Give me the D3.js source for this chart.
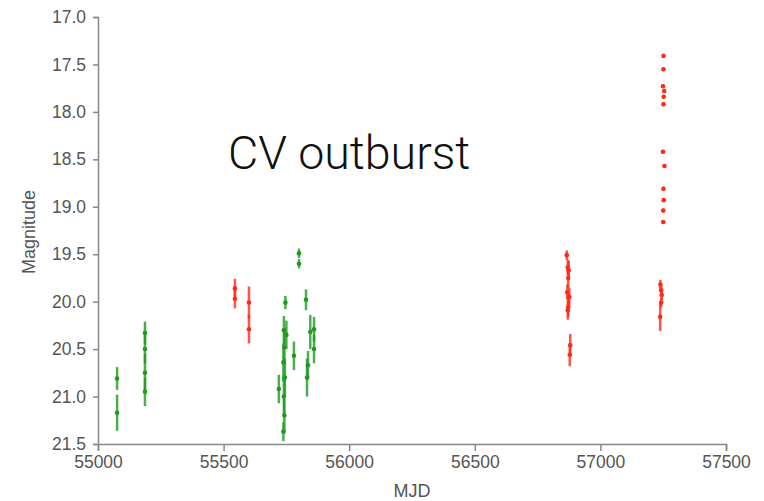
<!DOCTYPE html>
<html><head><meta charset="utf-8">
<script src="https://cdn.jsdelivr.net/npm/d3@7"></script>
<style>body{margin:0;background:#fff}svg{display:block}</style>
</head><body><svg id="c" width="764" height="501"></svg>
<script>
const xTicks=[55000,55500,56000,56500,57000,57500];
const yTicks=[17.0,17.5,18.0,18.5,19.0,19.5,20.0,20.5,21.0,21.5];
const greenMJD=[55076,55076,55187,55187,55187,55187,55720,55740,55742,55738,55744,55740,55742,55738,55746,55750,55780,55800,55800,55828,55836,55832,55845,55860,55860];
const greenMag=[20.81,21.17,20.33,20.50,20.75,20.95,20.92,20.30,20.48,20.64,20.80,21.00,21.20,21.37,20.01,20.35,20.57,19.49,19.60,19.98,20.67,20.80,20.32,20.29,20.50];
const greenErr=[0.12,0.19,0.12,0.15,0.2,0.15,0.15,0.15,0.18,0.2,0.2,0.2,0.18,0.1,0.07,0.15,0.15,0.05,0.05,0.11,0.15,0.2,0.18,0.13,0.15];
const redMJD=[55545,55545,55601,55601,56866,56870,56874,56872,56868,56876,56872,56870,56880,56878,57251,57251,57249,57254,57252,57251,57249,57255,57251,57252,57250,57250,57239,57242,57244,57242,57238];
const redMag=[19.86,19.97,20.01,20.29,19.51,19.64,19.67,19.75,19.90,19.95,20.06,20.09,20.46,20.56,17.41,17.55,17.73,17.78,17.84,17.92,18.42,18.57,18.81,18.93,19.04,19.16,19.82,19.88,19.93,20.01,20.16];
const redErr=[0.1,0.1,0.17,0.15,0.05,0.08,0.1,0.1,0.08,0.1,0.1,0.1,0.12,0.12,0.02,0.02,0.02,0.02,0.02,0.02,0.02,0.02,0.02,0.02,0.02,0.02,0.05,0.05,0.05,0.05,0.15];
const title="CV outburst", xLabel="MJD", yLabel="Magnitude";

const svg=d3.select("#c");
const x=d3.scaleLinear().domain([55000,57500]).range([98,726]);
const y=d3.scaleLinear().domain([17,21.5]).range([17,444]);
const font="'Liberation Sans', Arial, sans-serif";

const gx=svg.append("g").attr("transform","translate(0,444)")
 .call(d3.axisBottom(x).tickValues(xTicks).tickFormat(d3.format("d")).tickSizeOuter(0).tickSize(7).tickPadding(5));
const gy=svg.append("g").attr("transform","translate(98,0)")
 .call(d3.axisLeft(y).tickValues(yTicks).tickFormat(d3.format(".1f")).tickSizeOuter(0).tickSize(5).tickPadding(7));
[gx,gy].forEach(g=>{
  g.select(".domain").attr("stroke","#888").attr("stroke-width",1.5);
  g.selectAll(".tick line").attr("stroke","#888").attr("stroke-width",1.5);
  g.selectAll(".tick text").attr("fill","#555").style("font-family",font).style("font-size","17.5px");
});

function series(mjd,mag,err,color){
  const g=svg.append("g");
  const idx=d3.range(mjd.length);
  g.selectAll("line").data(idx).join("line")
   .attr("x1",i=>x(mjd[i])).attr("x2",i=>x(mjd[i]))
   .attr("y1",i=>y(mag[i]-err[i])).attr("y2",i=>y(mag[i]+err[i]))
   .attr("stroke",color).attr("stroke-width",2.5).attr("stroke-opacity",0.8);
  g.selectAll("circle").data(idx).join("circle")
   .attr("cx",i=>x(mjd[i])).attr("cy",i=>y(mag[i])).attr("r",2.3)
   .attr("fill",color);
}
series(greenMJD,greenMag,greenErr,"#1f9a1f");
series(redMJD,redMag,redErr,"#ff2a1a");

svg.append("text").attr("x",228).attr("y",169).text(title)
 .style("font-family","Roboto, 'Liberation Sans', sans-serif").style("font-weight",300).style("font-size","46.5px").attr("fill","#111");
svg.append("text").attr("x",412).attr("y",497).attr("text-anchor","middle").text(xLabel)
 .style("font-family",font).style("font-size","18px").attr("fill","#555");
svg.append("text").attr("transform","translate(35,232) rotate(-90)").attr("text-anchor","middle").text(yLabel)
 .style("font-family",font).style("font-size","18px").attr("fill","#555");
</script></body></html>
